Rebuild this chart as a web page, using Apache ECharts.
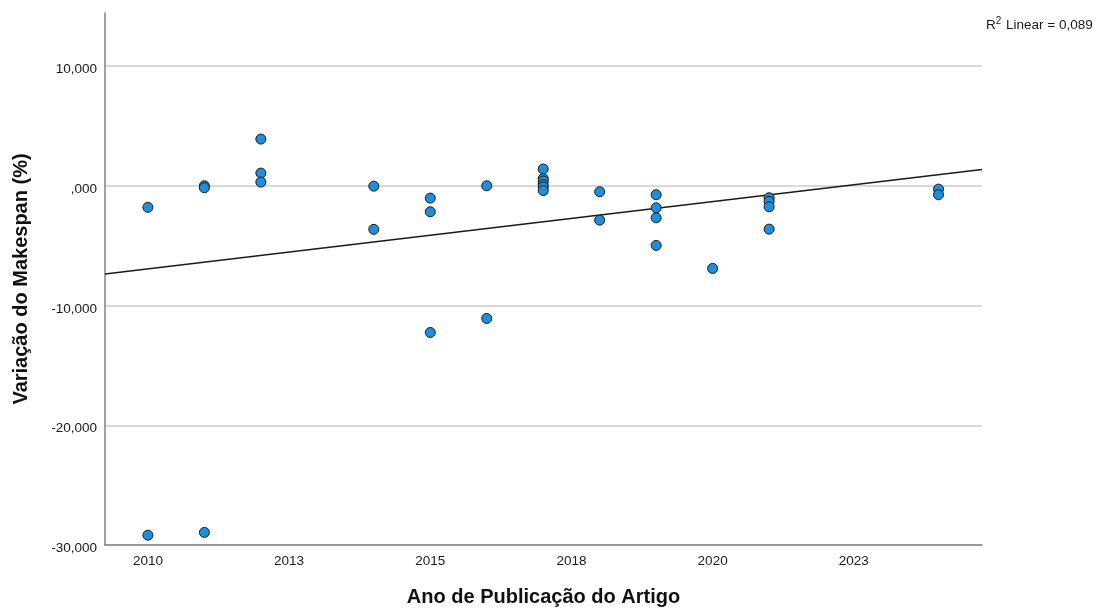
<!DOCTYPE html>
<html>
<head>
<meta charset="utf-8">
<script src="https://cdn.jsdelivr.net/npm/echarts@6/dist/echarts.min.js"></script>
<style>
  html, body { margin: 0; padding: 0; background: #ffffff; }
  #chart { width: 1102px; height: 611px; }
</style>
</head>
<body>
<div id="chart"></div>
<script>
// Publication years and the makespan variation (%) of each article in that year
const years = [2010, 2011, 2012, 2014, 2015, 2016, 2017, 2018, 2019, 2020, 2021, 2024];
const variation = [
  [-1.80, -29.18],
  [0.00, -0.17, -28.95],
  [3.90, 1.06, 0.31],
  [-0.03, -3.64],
  [-1.03, -2.17, -12.25],
  [0.00, -11.08],
  [1.40, 0.60, 0.40, 0.10, -0.10, -0.40],
  [-0.50, -2.87],
  [-0.75, -1.84, -2.67, -4.98],
  [-6.90],
  [-1.00, -1.30, -1.75, -3.62],
  [-0.28, -0.75]
];

// Axis ticks and their printed labels
const xTickValues = [2010, 2012.5, 2015, 2017.5, 2020, 2022.5];
const xTickLabels = ['2010', '2013', '2015', '2018', '2020', '2023'];
const yTickValues = [-30, -20, -10, 0, 10];
const yTickLabels = ['-30,000', '-20,000', '-10,000', ',000', '10,000'];
const xRange = [2009.24, 2024.77];
const yRange = [-30, 14.43];

const FONT = '"Liberation Sans", Arial, sans-serif';
const INK = '#1a1a1a';

// Flatten into [year, value] pairs
const points = [];
years.forEach((yr, i) => variation[i].forEach(v => points.push([yr, v])));

// Ordinary least squares fit and its R²
const n = points.length;
const mx = points.reduce((s, p) => s + p[0], 0) / n;
const my = points.reduce((s, p) => s + p[1], 0) / n;
let sxx = 0, sxy = 0, syy = 0;
points.forEach(([x, y]) => {
  sxx += (x - mx) * (x - mx);
  sxy += (x - mx) * (y - my);
  syy += (y - my) * (y - my);
});
const slope = sxy / sxx;
const intercept = my - slope * mx;
const r2 = (sxy * sxy) / (sxx * syy);
const fitLine = xRange.map(x => [x, intercept + slope * x]);
const r2Text = r2.toFixed(3).replace('.', ',');

const chart = echarts.init(document.getElementById('chart'), null, { renderer: 'canvas' });

chart.setOption({
  animation: false,
  backgroundColor: '#ffffff',
  textStyle: { fontFamily: FONT },
  title: {
    left: 981,
    top: 11,
    text: '{r|R}{s|2}{r| Linear = ' + r2Text + '}',
    textStyle: {
      fontWeight: 'normal',
      rich: {
        r: { fontFamily: FONT, fontSize: 13.5, fontWeight: 'normal', color: INK, verticalAlign: 'bottom' },
        s: { fontFamily: FONT, fontSize: 10, fontWeight: 'normal', color: INK, verticalAlign: 'top', padding: [0, 1, 6, 0] }
      }
    }
  },
  grid: { left: 105, right: 120, top: 13, bottom: 66, containLabel: false, outerBoundsMode: 'none' },
  xAxis: {
    type: 'value',
    min: xRange[0],
    max: xRange[1],
    name: 'Ano de Publicação do Artigo',
    nameLocation: 'middle',
    nameGap: 42,
    nameTextStyle: { fontFamily: FONT, fontSize: 20, fontWeight: 'bold', color: '#111111' },
    axisLine: { show: true, onZero: false, lineStyle: { color: '#808080', width: 1.5 } },
    axisTick: { show: false, customValues: xTickValues },
    splitLine: { show: false },
    axisLabel: {
      customValues: xTickValues,
      margin: 9,
      fontSize: 13.5,
      color: INK,
      fontFamily: FONT,
      formatter: v => xTickLabels[xTickValues.indexOf(v)]
    }
  },
  yAxis: {
    type: 'value',
    min: yRange[0],
    max: yRange[1],
    name: 'Variação do Makespan (%)',
    nameLocation: 'middle',
    nameGap: 74,
    nameRotate: 90,
    nameTextStyle: { fontFamily: FONT, fontSize: 20, fontWeight: 'bold', color: '#111111' },
    axisLine: { show: true, onZero: false, lineStyle: { color: '#808080', width: 1.5 } },
    axisTick: { show: false, customValues: yTickValues },
    splitLine: { show: true, lineStyle: { color: '#cccccc', width: 1.5 } },
    axisLabel: {
      customValues: yTickValues,
      margin: 8,
      color: INK,
      fontFamily: FONT,
      formatter: v => '{t|' + yTickLabels[yTickValues.indexOf(v)] + '}',
      rich: {
        t: { fontFamily: FONT, fontSize: 13.5, color: INK, padding: [7, 0, 0, 0] }
      }
    }
  },
  series: [
    {
      type: 'line',
      data: fitLine,
      showSymbol: false,
      symbol: 'none',
      lineStyle: { color: INK, width: 1.5 },
      silent: true,
      z: 2
    },
    {
      type: 'scatter',
      data: points,
      symbol: 'circle',
      symbolSize: 10,
      itemStyle: { color: '#1e8fdc', borderColor: INK, borderWidth: 1, opacity: 1 },
      z: 3
    }
  ]
});
</script>
</body>
</html>
